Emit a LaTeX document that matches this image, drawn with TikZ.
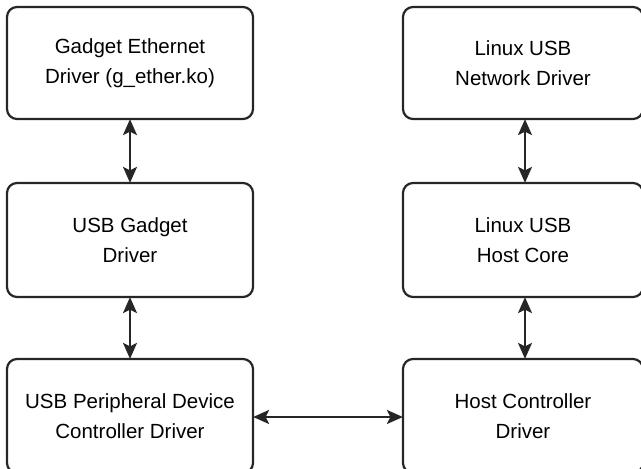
\documentclass[tikz,border=0pt]{standalone}
\usepackage{fontspec}
\setmainfont{Liberation Sans}
\usetikzlibrary{arrows.meta}
\begin{document}
\begin{tikzpicture}[x=1pt,y=-1pt,
  box/.style={draw=black!85, line width=2.2pt, rounded corners=10pt, align=center,
    font=\fontsize{20.5}{30.5}\selectfont, inner sep=0pt},
  link/.style={line width=2pt, black!85, {Stealth[length=16pt,width=14pt,inset=3.5pt]}-{Stealth[length=16pt,width=14pt,inset=3.5pt]}, shorten <=-1pt, shorten >=-1pt}]
\clip (0,0) rectangle (641,469);
\useasboundingbox (0,0) rectangle (641,469);
\node[box, minimum width=246pt, minimum height=112pt] (ge) at (130,63) {Gadget Ethernet\\Driver (g\_ether.ko)};
\node[box, minimum width=246pt, minimum height=114pt] (ugd) at (130,240) {USB Gadget\\Driver};
\node[box, minimum width=246pt, minimum height=114pt] (pdc) at (130,416) {USB Peripheral Device\\Controller Driver};
\node[box, minimum width=240pt, minimum height=112pt] (lnd) at (523,63) {Linux USB\\Network Driver};
\node[box, minimum width=240pt, minimum height=114pt] (lhc) at (523,240) {Linux USB\\Host Core};
\node[box, minimum width=240pt, minimum height=114pt] (hcd) at (523,416) {Host Controller\\Driver};
\draw[link] (ge.south) -- (ugd.north);
\draw[link] (ugd.south) -- (pdc.north);
\draw[link] ([xshift=2pt]lnd.south) -- ([xshift=2pt]lhc.north);
\draw[link] ([xshift=2pt]lhc.south) -- ([xshift=2pt]hcd.north);
\draw[link] ([yshift=-1pt]pdc.east) -- ([yshift=-1pt]hcd.west);
\end{tikzpicture}
\end{document}
